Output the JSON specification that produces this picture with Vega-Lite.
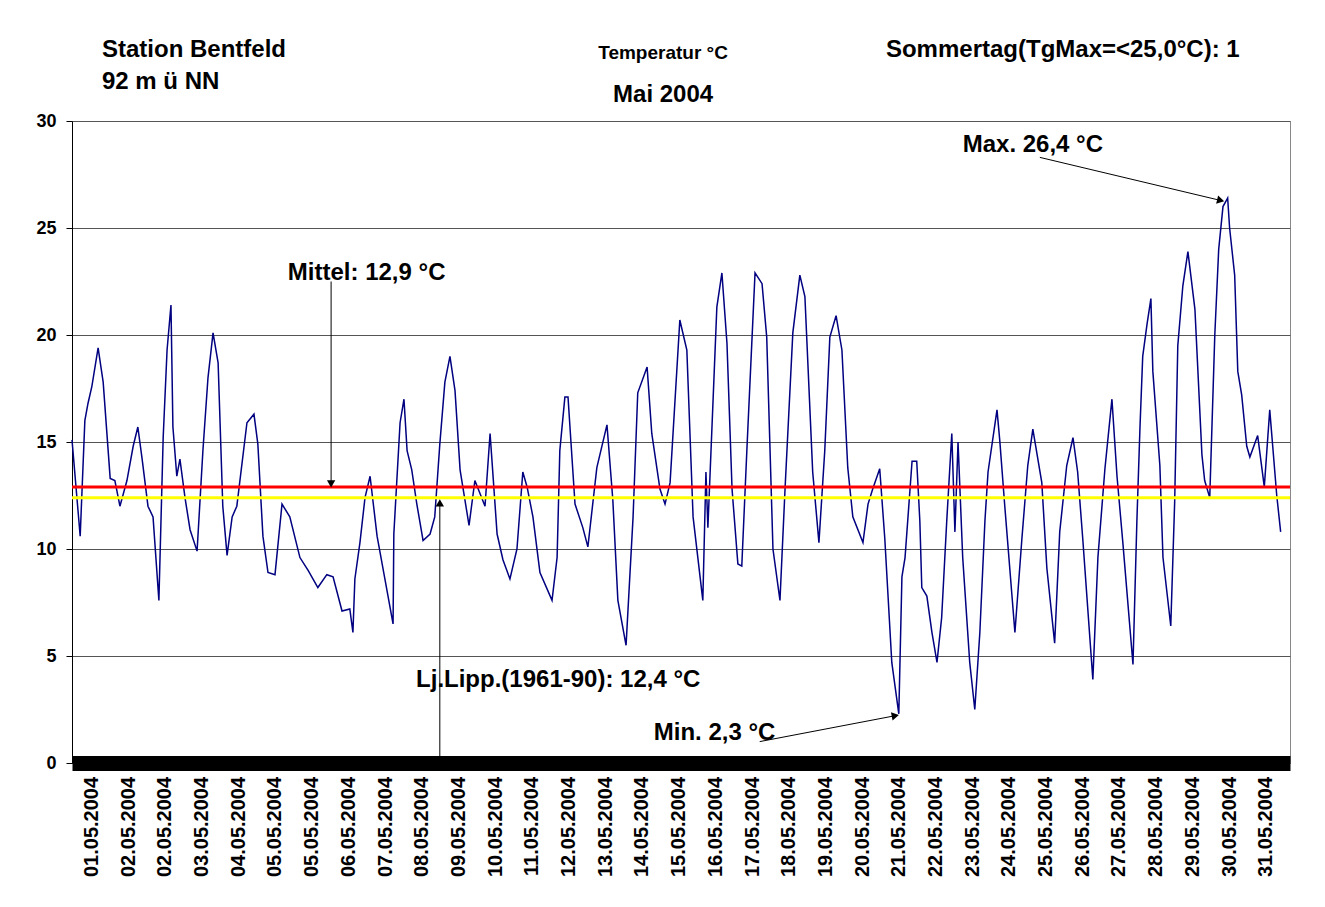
{
"$schema":"https://vega.github.io/schema/vega-lite/v6.json",
"width":1218,"height":642,
"autosize":{"type":"none"},
"padding":{"left":72,"top":121,"right":35,"bottom":144},
"background":"white",
"config":{"font":"Liberation Sans","view":{"stroke":"#888888","strokeWidth":1},
 "axisX":{"labels":false,"domainWidth":15,"domainColor":"black","ticks":false,"grid":false,"title":null},
 "axisY":{"title":null,"gridColor":"#555555","gridWidth":1,"domainColor":"black","tickColor":"black","tickSize":6,"labelFontSize":18,"labelFontWeight":"bold","labelColor":"black","labelPadding":10}},
"datasets":{
"temp":[
{"d":0.00,"v":15.1},{"d":0.21,"v":10.6},{"d":0.33,"v":16.0},{"d":0.41,"v":16.8},{"d":0.51,"v":17.6},{"d":0.67,"v":19.4},{"d":0.80,"v":17.8},{"d":0.98,"v":13.3},{"d":1.10,"v":13.2},{"d":1.23,"v":12.0},{"d":1.41,"v":13.2},{"d":1.57,"v":14.8},{"d":1.69,"v":15.7},{"d":1.80,"v":14.2},{"d":1.95,"v":12.0},{"d":2.08,"v":11.5},{"d":2.23,"v":7.6},{"d":2.34,"v":15.2},{"d":2.44,"v":19.3},{"d":2.54,"v":21.4},{"d":2.59,"v":15.7},{"d":2.69,"v":13.4},{"d":2.77,"v":14.2},{"d":2.90,"v":12.4},{"d":3.03,"v":10.9},{"d":3.21,"v":9.9},{"d":3.36,"v":14.6},{"d":3.49,"v":18.0},{"d":3.62,"v":20.1},{"d":3.75,"v":18.7},{"d":3.87,"v":12.0},{"d":3.98,"v":9.7},{"d":4.11,"v":11.5},{"d":4.23,"v":12.0},{"d":4.49,"v":15.9},{"d":4.67,"v":16.3},{"d":4.77,"v":14.9},{"d":4.90,"v":10.6},{"d":5.03,"v":8.9},{"d":5.21,"v":8.8},{"d":5.39,"v":12.1},{"d":5.59,"v":11.5},{"d":5.85,"v":9.6},{"d":6.06,"v":9.0},{"d":6.31,"v":8.2},{"d":6.54,"v":8.8},{"d":6.70,"v":8.7},{"d":6.93,"v":7.1},{"d":7.13,"v":7.2},{"d":7.21,"v":6.1},{"d":7.26,"v":8.6},{"d":7.39,"v":10.3},{"d":7.52,"v":12.4},{"d":7.65,"v":13.4},{"d":7.83,"v":10.6},{"d":8.03,"v":8.6},{"d":8.24,"v":6.5},{"d":8.26,"v":10.7},{"d":8.42,"v":15.9},{"d":8.52,"v":17.0},{"d":8.60,"v":14.6},{"d":8.72,"v":13.7},{"d":8.85,"v":12.1},{"d":9.01,"v":10.4},{"d":9.19,"v":10.7},{"d":9.31,"v":11.5},{"d":9.44,"v":14.9},{"d":9.57,"v":17.8},{"d":9.70,"v":19.0},{"d":9.83,"v":17.4},{"d":9.96,"v":13.7},{"d":10.19,"v":11.1},{"d":10.34,"v":13.2},{"d":10.60,"v":12.0},{"d":10.73,"v":15.4},{"d":10.91,"v":10.7},{"d":11.06,"v":9.5},{"d":11.24,"v":8.6},{"d":11.42,"v":10.0},{"d":11.57,"v":13.6},{"d":11.68,"v":12.9},{"d":11.83,"v":11.5},{"d":12.01,"v":8.9},{"d":12.32,"v":7.6},{"d":12.45,"v":9.6},{"d":12.52,"v":14.6},{"d":12.65,"v":17.1},{"d":12.73,"v":17.1},{"d":12.91,"v":12.1},{"d":13.11,"v":11.0},{"d":13.24,"v":10.1},{"d":13.47,"v":13.8},{"d":13.73,"v":15.8},{"d":13.88,"v":12.3},{"d":14.01,"v":7.6},{"d":14.22,"v":5.5},{"d":14.40,"v":11.5},{"d":14.52,"v":17.3},{"d":14.76,"v":18.5},{"d":14.88,"v":15.4},{"d":15.09,"v":12.8},{"d":15.22,"v":12.1},{"d":15.35,"v":13.1},{"d":15.60,"v":20.7},{"d":15.78,"v":19.3},{"d":15.94,"v":11.5},{"d":16.19,"v":7.6},{"d":16.27,"v":13.6},{"d":16.32,"v":11.0},{"d":16.55,"v":21.3},{"d":16.68,"v":22.9},{"d":16.81,"v":19.6},{"d":16.94,"v":12.8},{"d":17.09,"v":9.3},{"d":17.19,"v":9.2},{"d":17.32,"v":14.6},{"d":17.53,"v":22.9},{"d":17.71,"v":22.4},{"d":17.83,"v":19.9},{"d":17.99,"v":10.0},{"d":18.17,"v":7.6},{"d":18.30,"v":12.8},{"d":18.50,"v":20.1},{"d":18.68,"v":22.8},{"d":18.81,"v":21.8},{"d":19.01,"v":13.6},{"d":19.17,"v":10.3},{"d":19.32,"v":14.6},{"d":19.45,"v":19.9},{"d":19.61,"v":20.9},{"d":19.76,"v":19.3},{"d":19.91,"v":13.8},{"d":20.04,"v":11.5},{"d":20.30,"v":10.3},{"d":20.43,"v":12.1},{"d":20.55,"v":12.8},{"d":20.73,"v":13.75},{"d":20.86,"v":10.5},{"d":21.04,"v":4.7},{"d":21.22,"v":2.3},{"d":21.30,"v":8.7},{"d":21.38,"v":9.6},{"d":21.56,"v":14.1},{"d":21.68,"v":14.1},{"d":21.76,"v":11.3},{"d":21.81,"v":8.2},{"d":21.94,"v":7.8},{"d":22.07,"v":6.1},{"d":22.20,"v":4.7},{"d":22.32,"v":6.8},{"d":22.45,"v":11.3},{"d":22.58,"v":15.4},{"d":22.66,"v":10.8},{"d":22.74,"v":15.0},{"d":22.86,"v":9.6},{"d":23.04,"v":4.7},{"d":23.17,"v":2.5},{"d":23.30,"v":6.1},{"d":23.43,"v":11.3},{"d":23.51,"v":13.6},{"d":23.74,"v":16.5},{"d":23.81,"v":15.1},{"d":23.94,"v":12.0},{"d":24.20,"v":6.1},{"d":24.38,"v":10.5},{"d":24.53,"v":13.9},{"d":24.66,"v":15.6},{"d":24.89,"v":13.1},{"d":25.02,"v":9.1},{"d":25.22,"v":5.6},{"d":25.35,"v":10.8},{"d":25.53,"v":13.9},{"d":25.69,"v":15.2},{"d":25.81,"v":13.6},{"d":25.94,"v":10.5},{"d":26.20,"v":3.9},{"d":26.33,"v":9.6},{"d":26.51,"v":13.75},{"d":26.69,"v":17.0},{"d":26.82,"v":13.4},{"d":26.97,"v":10.3},{"d":27.23,"v":4.6},{"d":27.33,"v":11.3},{"d":27.41,"v":15.7},{"d":27.48,"v":19.0},{"d":27.59,"v":20.5},{"d":27.69,"v":21.7},{"d":27.74,"v":18.3},{"d":27.92,"v":13.9},{"d":28.00,"v":9.6},{"d":28.20,"v":6.4},{"d":28.30,"v":12.2},{"d":28.38,"v":19.5},{"d":28.51,"v":22.3},{"d":28.64,"v":23.9},{"d":28.82,"v":21.2},{"d":29.00,"v":14.4},{"d":29.07,"v":13.2},{"d":29.20,"v":12.4},{"d":29.33,"v":20.0},{"d":29.43,"v":24.0},{"d":29.54,"v":26.0},{"d":29.66,"v":26.4},{"d":29.71,"v":25.0},{"d":29.84,"v":22.8},{"d":29.92,"v":18.3},{"d":30.02,"v":17.2},{"d":30.15,"v":14.8},{"d":30.23,"v":14.3},{"d":30.43,"v":15.3},{"d":30.60,"v":12.9},{"d":30.74,"v":16.5},{"d":30.92,"v":12.5},{"d":31.02,"v":10.8}
],
"xlabels":[
{"d":0.513,"t":"01.05.2004"},{"d":1.455,"t":"02.05.2004"},{"d":2.397,"t":"02.05.2004"},{"d":3.338,"t":"03.05.2004"},{"d":4.28,"t":"04.05.2004"},{"d":5.222,"t":"05.05.2004"},{"d":6.164,"t":"05.05.2004"},{"d":7.106,"t":"06.05.2004"},{"d":8.048,"t":"07.05.2004"},{"d":8.989,"t":"08.05.2004"},{"d":9.931,"t":"09.05.2004"},{"d":10.873,"t":"10.05.2004"},{"d":11.815,"t":"11.05.2004"},{"d":12.757,"t":"12.05.2004"},{"d":13.698,"t":"13.05.2004"},{"d":14.64,"t":"14.05.2004"},{"d":15.582,"t":"15.05.2004"},{"d":16.524,"t":"16.05.2004"},{"d":17.466,"t":"17.05.2004"},{"d":18.408,"t":"18.05.2004"},{"d":19.349,"t":"19.05.2004"},{"d":20.291,"t":"20.05.2004"},{"d":21.233,"t":"21.05.2004"},{"d":22.175,"t":"22.05.2004"},{"d":23.117,"t":"23.05.2004"},{"d":24.058,"t":"24.05.2004"},{"d":25.0,"t":"25.05.2004"},{"d":25.942,"t":"26.05.2004"},{"d":26.884,"t":"27.05.2004"},{"d":27.826,"t":"28.05.2004"},{"d":28.768,"t":"29.05.2004"},{"d":29.709,"t":"30.05.2004"},{"d":30.651,"t":"31.05.2004"}
],
"textsL":[
{"d":0.77,"v":33.3,"t":"Station Bentfeld"},
{"d":0.77,"v":31.8,"t":"92 m ü NN"},
{"d":20.89,"v":33.3,"t":"Sommertag(TgMax=<25,0°C):  1"},
{"d":22.86,"v":28.9,"t":"Max. 26,4 °C"},
{"d":5.54,"v":22.9,"t":"Mittel: 12,9 °C"},
{"d":8.83,"v":3.9,"t":"Lj.Lipp.(1961-90):  12,4 °C"},
{"d":14.93,"v":1.4,"t":"Min. 2,3 °C"}
],
"arrows":[
{"d":6.65,"v":22.5,"d2":6.65,"v2":13.1,"ang":180},
{"d":9.44,"v":-0.3,"d2":9.44,"v2":12.1,"ang":0},
{"d":17.65,"v":1.0,"d2":21.1,"v2":2.2,"ang":79},
{"d":24.84,"v":28.3,"d2":29.45,"v2":26.3,"ang":104}
],
"refs":[{"v":12.9,"c":"red"},{"v":12.4,"c":"yellow"}]
},
"layer":[
{"data":{"name":"temp"},"mark":{"type":"line","color":"#000080","strokeWidth":1.5},
 "encoding":{
  "x":{"field":"d","type":"quantitative","scale":{"domain":[0,31.26],"nice":false}},
  "y":{"field":"v","type":"quantitative","scale":{"domain":[0,30],"nice":false},
   "axis":{"values":[0,5,10,15,20,25,30]}}}},
{"data":{"name":"refs"},"mark":{"type":"rule","strokeWidth":3},
 "encoding":{"y":{"field":"v","type":"quantitative"},"color":{"field":"c","type":"nominal","scale":null}}},
{"data":{"name":"arrows"},"mark":{"type":"rule","color":"black","strokeWidth":1,"clip":false},
 "encoding":{"x":{"field":"d","type":"quantitative"},"y":{"field":"v","type":"quantitative"},"x2":{"field":"d2"},"y2":{"field":"v2"}}},
{"data":{"name":"arrows"},"mark":{"type":"point","shape":"triangle","filled":true,"color":"black","size":70,"opacity":1,"clip":false},
 "encoding":{"x":{"field":"d2","type":"quantitative"},"y":{"field":"v2","type":"quantitative"},"angle":{"field":"ang","type":"quantitative","scale":null}}},
{"data":{"name":"xlabels"},"mark":{"type":"text","fontWeight":"bold","baseline":"middle","align":"right","angle":270,"fontSize":20,"clip":false,"color":"black"},
 "encoding":{"x":{"field":"d","type":"quantitative"},"y":{"datum":-0.65},"text":{"field":"t"}}},
{"data":{"name":"textsL"},"mark":{"type":"text","fontWeight":"bold","baseline":"middle","align":"left","fontSize":24,"clip":false,"color":"black"},
 "encoding":{"x":{"field":"d","type":"quantitative"},"y":{"field":"v","type":"quantitative"},"text":{"field":"t"}}},
{"data":{"values":[{"d":15.17,"v":33.2,"t":"Temperatur °C"}]},"mark":{"type":"text","fontWeight":"bold","baseline":"middle","align":"center","fontSize":19,"clip":false,"color":"black"},
 "encoding":{"x":{"field":"d","type":"quantitative"},"y":{"field":"v","type":"quantitative"},"text":{"field":"t"}}},
{"data":{"values":[{"d":15.17,"v":31.2,"t":"Mai 2004"}]},"mark":{"type":"text","fontWeight":"bold","baseline":"middle","align":"center","fontSize":24,"clip":false,"color":"black"},
 "encoding":{"x":{"field":"d","type":"quantitative"},"y":{"field":"v","type":"quantitative"},"text":{"field":"t"}}}
]
}
